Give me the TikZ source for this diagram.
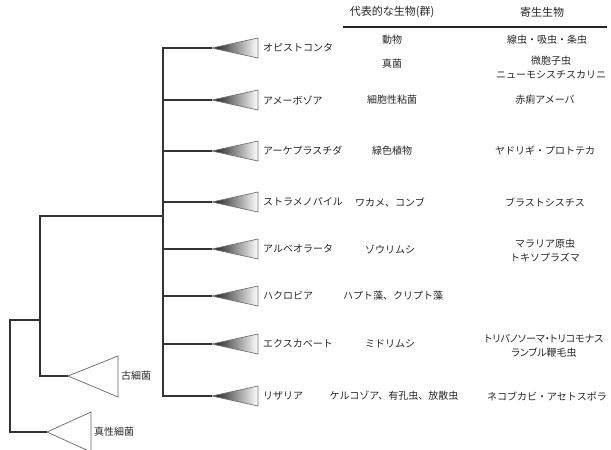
\documentclass[tikz,border=0pt]{standalone}
\usepackage{fontspec}
\newfontfamily\jp{Noto Sans CJK JP}
\newfontfamily\jpp[RawFeature={+palt}]{Noto Sans CJK JP}
\begin{document}
\begin{tikzpicture}[x=1pt,y=-1pt,
  branch/.style={draw=black!80,line width=1.3pt},
  clade/.style={left color=black!90,right color=white,draw=black!55,line width=0.7pt},
  bact/.style={fill=white,draw=black!60,line width=0.7pt},
  lab/.style={font=\jp\fontsize{10}{12}\selectfont,inner sep=0pt,text=black!85},
  hdr/.style={font=\jp\fontsize{11}{13}\selectfont,inner sep=0pt,text=black!85},
  two/.style={font=\jp\fontsize{10}{14}\selectfont,inner sep=0pt,text=black!85,align=center}
]
\useasboundingbox (0,0) rectangle (611,450);

% eukaryote clades
\foreach \n/\yy/\t in {opi/48/オピストコンタ, amo/100/アメーボゾア, arc/151/アーケプラスチダ,
  str/202/ストラメノパイル, alv/249/アルベオラータ, hac/296/ハクロビア,
  exc/344/エクスカベート, riz/396/リザリア}{
  \coordinate (\n) at (212,\yy);
  \shadedraw[clade] (\n) -- ++(46,-10) -- ++(0,20) -- cycle;
  \node[lab,anchor=west] (\n-l) at (263,\yy) {\t};
}

% prokaryote groups
\coordinate (archaea) at (68,376);
\draw[bact] (archaea) -- ++(50,-20) -- ++(0,41) -- cycle;
\node[lab,anchor=west] (archaea-l) at (121,376) {古細菌};
\coordinate (bacteria) at (47,432);
\draw[bact] (bacteria) -- ++(44,-20) -- ++(0,40) -- cycle;
\node[lab,anchor=west] (bacteria-l) at (94,432) {真性細菌};

% tree
\coordinate (stemtop) at (163,48);
\coordinate (stembot) at (163,396);
\coordinate (ej) at (163,216);
\coordinate (a1) at (40,216);
\coordinate (r1) at (40,320);
\coordinate (root) at (10,320);
\draw[branch] (opi) -- (stemtop) -- (stembot) -- (riz);
\foreach \n in {amo,arc,str,alv,hac,exc}{
  \draw[branch] (\n) -- (\n -| stemtop);
}
\draw[branch] (ej) -- (a1) |- (archaea);
\draw[branch] (r1) -- (root) |- (bacteria);

% table header
\node[hdr] (h1) at (392,12) {代表的な生物(群)};
\node[hdr] (h2) at (542,12) {寄生生物};
\coordinate (hl) at (343,27);
\coordinate (hr) at (607,27);
\draw[line width=1.5pt,black!85] (hl) -- (hr);

% column 2
\node[lab] (c1a) at (392,40) {動物};
\node[lab] (c1b) at (392,64) {真菌};
\node[lab] (c2) at (392,100) {細胞性粘菌};
\node[lab] (c3) at (392,151) {緑色植物};
\node[lab] (c4) at (390,202) {ワカメ、コンブ};
\node[lab] (c5) at (390,249) {ゾウリムシ};
\node[lab] (c6) at (393,296) {ハプト藻、クリプト藻};
\node[lab] (c7) at (390,344) {ミドリムシ};
\node[lab] (c8) at (394,396) {ケルコゾア、有孔虫、放散虫};

% column 3
\node[lab] (p1a) at (547,40) {線虫・吸虫・条虫};
\node[two] (p1b) at (551,67) {微胞子虫\\ニューモシスチスカリニ};
\node[lab] (p2) at (545,100) {赤痢アメーバ};
\node[lab] (p3) at (545,151) {ヤドリギ・プロトテカ};
\node[lab] (p4) at (545,202) {ブラストシスチス};
\node[two] (p5) at (545,251) {マラリア原虫\\トキソプラズマ};
\node[two,font=\jpp\fontsize{10}{14}\selectfont] (p7) at (544,346) {トリパノソーマ・トリコモナス\\ランブル鞭毛虫};
\node[lab] (p8) at (547,396) {ネコブカビ・アセトスポラ};
\end{tikzpicture}
\end{document}
